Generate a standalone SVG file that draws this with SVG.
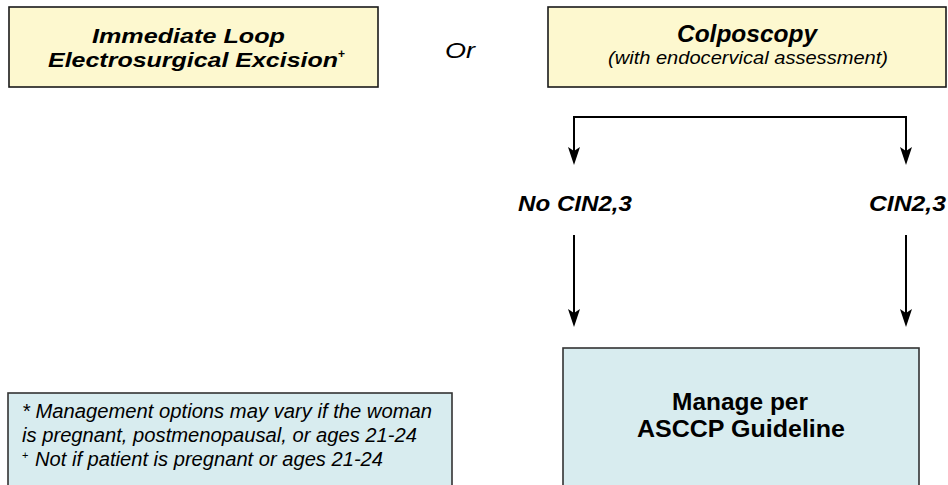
<svg xmlns="http://www.w3.org/2000/svg" width="948" height="485" viewBox="0 0 948 485">
<defs>
<style>
.yb{fill:#fdf8cf;stroke:#1a1a1a;stroke-width:1.6}
.bb{fill:#d8ecef;stroke:#333;stroke-width:1.6}
.t{font-family:"Liberation Sans",Arial,sans-serif;fill:#000}
.bi{font-weight:bold;font-style:italic}
.i{font-style:italic}
.b{font-weight:bold}
.ln{fill:none;stroke:#000;stroke-width:2}
</style>
<marker id="ah" viewBox="0 0 18 12" refX="14" refY="6" markerWidth="18" markerHeight="12" markerUnits="userSpaceOnUse" orient="auto">
<path d="M0,0 L18,6 L0,12 L4,6 Z" fill="#000"/>
</marker>
</defs>
<rect width="948" height="485" fill="#fff"/>

<g id="leep">
<rect class="yb" x="9" y="7" width="369" height="80"/>
<text class="t bi" x="92" y="43" font-size="21" textLength="193" lengthAdjust="spacingAndGlyphs">Immediate Loop</text>
<text class="t bi" x="48" y="67" font-size="21" textLength="290" lengthAdjust="spacingAndGlyphs">Electrosurgical Excision</text>
<text class="t b" x="338" y="58" font-size="12">+</text>
</g>

<g id="or">
<text class="t i" x="445" y="58" font-size="22" textLength="30" lengthAdjust="spacingAndGlyphs">Or</text>
</g>

<g id="colposcopy">
<rect class="yb" x="548" y="7" width="398" height="80"/>
<text class="t bi" x="677" y="42" font-size="23" textLength="140" lengthAdjust="spacingAndGlyphs">Colposcopy</text>
<text class="t i" x="608" y="64" font-size="19" textLength="280" lengthAdjust="spacingAndGlyphs">(with endocervical assessment)</text>
</g>

<g id="no-cin">
<text class="t bi" x="518" y="211" font-size="22" textLength="114" lengthAdjust="spacingAndGlyphs">No CIN2,3</text>
</g>

<g id="cin">
<text class="t bi" x="869" y="211" font-size="22" textLength="77" lengthAdjust="spacingAndGlyphs">CIN2,3</text>
</g>

<g id="manage">
<rect class="bb" x="563" y="348" width="356" height="200"/>
<text class="t b" x="672" y="410" font-size="23" textLength="136" lengthAdjust="spacingAndGlyphs">Manage per</text>
<text class="t b" x="637" y="437" font-size="23" textLength="208" lengthAdjust="spacingAndGlyphs">ASCCP Guideline</text>
</g>

<g id="notes">
<rect class="bb" x="8" y="393" width="444" height="150"/>
<text class="t i" x="22" y="418" font-size="20" textLength="410" lengthAdjust="spacingAndGlyphs">* Management options may vary if the woman</text>
<text class="t i" x="22" y="442" font-size="20" textLength="395" lengthAdjust="spacingAndGlyphs">is pregnant, postmenopausal, or ages 21-24</text>
<text class="t" x="22" y="459" font-size="11">+</text>
<text class="t i" x="35" y="466" font-size="20" textLength="348" lengthAdjust="spacingAndGlyphs">Not if patient is pregnant or ages 21-24</text>
</g>

<g id="connectors">
<path class="ln" d="M574,117 H906"/>
<line class="ln" x1="574" y1="116" x2="574" y2="161" marker-end="url(#ah)"/>
<line class="ln" x1="906" y1="116" x2="906" y2="161" marker-end="url(#ah)"/>
<line class="ln" x1="574" y1="235" x2="574" y2="323" marker-end="url(#ah)"/>
<line class="ln" x1="906" y1="235" x2="906" y2="323" marker-end="url(#ah)"/>
</g>
</svg>
